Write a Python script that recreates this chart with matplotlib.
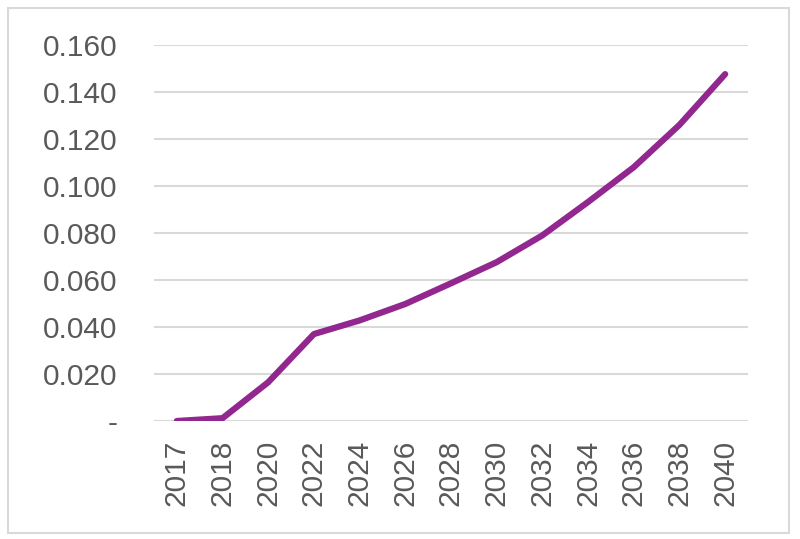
import numpy as np
import matplotlib
matplotlib.use("Agg")
import matplotlib.pyplot as plt
from matplotlib.patches import Rectangle

years = ["2017", "2018", "2020", "2022", "2024", "2026", "2028",
         "2030", "2032", "2034", "2036", "2038", "2040"]
values = [0.000, 0.0012, 0.0165, 0.037, 0.0428, 0.0498, 0.0586,
          0.0676, 0.079, 0.0932, 0.108, 0.126, 0.1476]
yticks = [0.0, 0.02, 0.04, 0.06, 0.08, 0.10, 0.12, 0.14, 0.16]
ytick_labels = ["-", "0.020", "0.040", "0.060", "0.080", "0.100",
                "0.120", "0.140", "0.160"]

plt.rcParams["font.family"] = ["Liberation Sans", "DejaVu Sans"]
text_col = "#595959"
grid_col = "#d9d9d9"

fig = plt.figure(figsize=(8, 5.39), dpi=100)
ax = fig.add_axes([154 / 800, 118 / 539, 594 / 800, 376 / 539])

# outer chart border
fig.patches.append(Rectangle((8 / 800, 6 / 539), 781 / 800, 525 / 539,
                             transform=fig.transFigure, fill=False,
                             edgecolor=grid_col, linewidth=1.5))

x = np.arange(len(years))
ax.plot(x, values, color="#92278f", linewidth=4.5,
        solid_capstyle="round", solid_joinstyle="round", zorder=3)

ax.set_xlim(-0.5, len(years) - 0.5)
ax.set_ylim(0, 0.16)
ax.set_yticks(yticks)
ax.set_yticklabels(ytick_labels)
ax.set_xticks(x)
ax.set_xticklabels(years, rotation=90)

ax.grid(axis="y", color=grid_col, linewidth=1.5)
ax.set_axisbelow(True)
for s in ax.spines.values():
    s.set_visible(False)
ax.tick_params(axis="both", length=0, labelsize=21.5, labelcolor=text_col)
ax.tick_params(axis="y", pad=26.5)
ax.tick_params(axis="x", pad=13.5)

fig.savefig("out.png", dpi=100)
